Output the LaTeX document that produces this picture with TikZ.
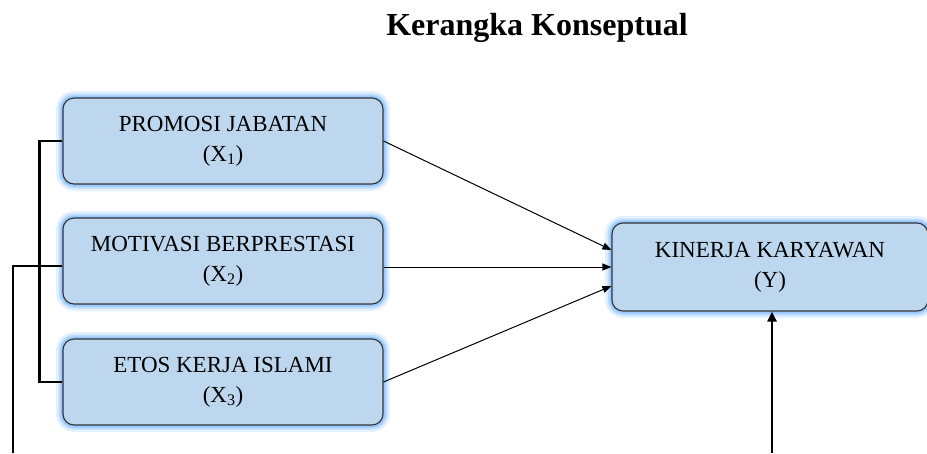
\documentclass[tikz,border=0pt]{standalone}
\usepackage{fontspec}
\setmainfont{Liberation Serif}
\usetikzlibrary{arrows.meta}
\definecolor{boxblue}{HTML}{BDD7EE}
\definecolor{glowblue}{HTML}{8EC4FF}
\definecolor{edgegray}{HTML}{333333}
\tikzset{
  varbox/.style={rounded corners=11pt, fill=boxblue, draw=edgegray, line width=1.1pt,
    minimum width=320pt, minimum height=86pt, align=center, inner sep=0pt,
    font=\fontsize{23}{30}\selectfont,
    preaction={draw=glowblue, line width=14pt, draw opacity=0.25},
    preaction={draw=glowblue, line width=9pt, draw opacity=0.45},
    preaction={draw=glowblue, line width=5pt, draw opacity=0.8}},
  thinarrow/.style={line width=1pt, -{Triangle[length=9pt,width=7pt]}},
  thickline/.style={line width=2.8pt},
  thickarrow/.style={line width=2.8pt, -{Triangle[length=10pt,width=9pt]}}
}
\begin{document}
\begin{tikzpicture}[x=1pt,y=-1pt]
\useasboundingbox (0,0) rectangle (927,453);
\node[font=\fontsize{32}{36}\selectfont\bfseries] (title) at (537,28) {Kerangka Konseptual};
\node[varbox] (X1) at (223,141) {PROMOSI JABATAN\\(X\textsubscript{1})};
\node[varbox] (X2) at (223,261) {MOTIVASI BERPRESTASI\\(X\textsubscript{2})};
\node[varbox] (X3) at (223,382) {ETOS KERJA ISLAMI\\(X\textsubscript{3})};
\node[varbox, minimum width=316pt, minimum height=88pt] (Y) at (770,267) {KINERJA KARYAWAN\\(Y)};
\draw[thinarrow] (X1.east) -- ([yshift=17pt]Y.west);
\draw[thinarrow] (X2.east |- Y.west) -- (Y.west);
\draw[thinarrow] (X3.east) -- ([yshift=-19pt]Y.west);
\draw[thickline] (X1.west) -- ++(-23,0) |- (X3.west);
\coordinate (m) at (13,266);
\coordinate (lb) at (13,453);
\draw[thickline] (lb) -- (m) -- (m -| X2.west);
\coordinate (rb) at (772,453);
\draw[thickarrow] (rb) -- (rb |- Y.south);
\end{tikzpicture}
\end{document}
